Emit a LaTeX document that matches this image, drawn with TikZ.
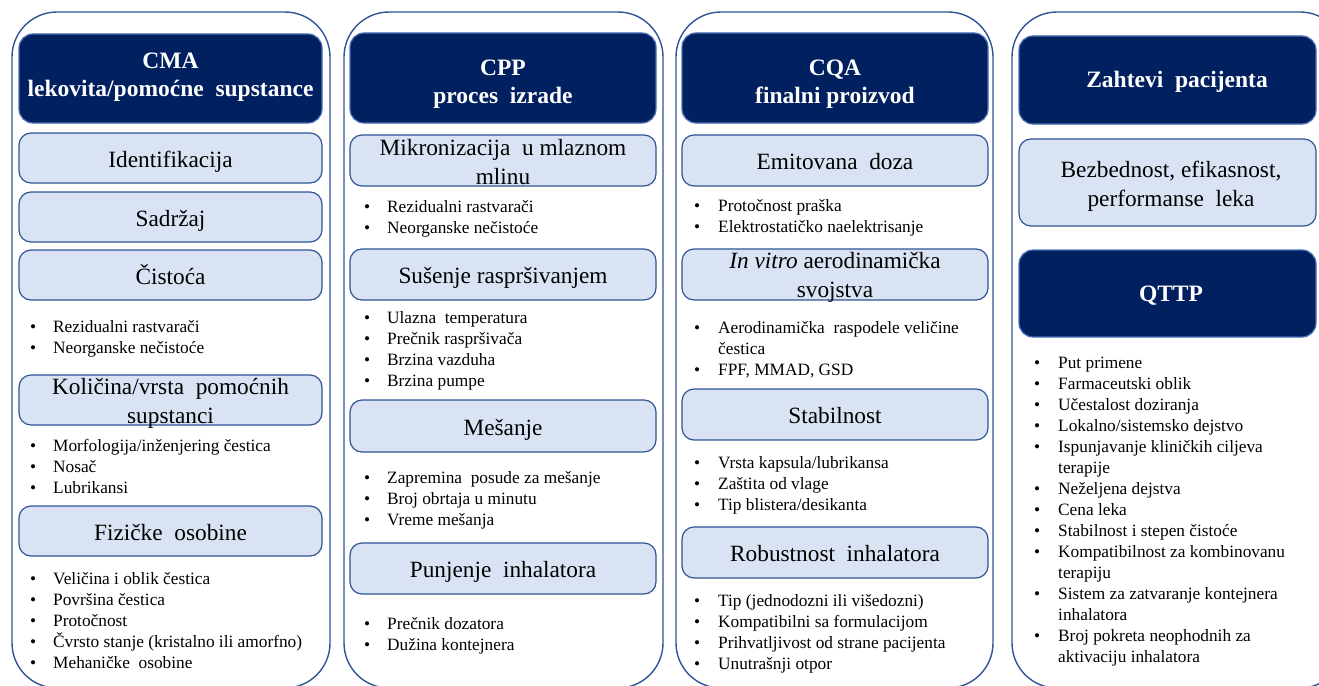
\documentclass[tikz,border=0pt]{standalone}
\usepackage{fontspec}
\setmainfont{Liberation Serif}
\usepackage{array}
\definecolor{navy}{HTML}{002060}
\definecolor{lightbox}{HTML}{DAE3F3}
\definecolor{edgeblue}{HTML}{2F5597}
\definecolor{hdredge}{HTML}{4A6FB5}
\newcommand{\blt}{\textbullet &}
\tikzset{
  frame/.style={draw=edgeblue, line width=1.4pt, rounded corners=45pt, fill=white},
  hdrbox/.style={draw=hdredge, line width=1.2pt, fill=navy, rounded corners=14pt, inner sep=0pt},
  lbox/.style={draw=edgeblue, line width=1.2pt, fill=lightbox, rounded corners=12pt, inner sep=0pt},
  hdrtext/.style={text=white, font=\bfseries\fontsize{23.5}{28}\selectfont, align=center, inner sep=0pt},
  hdrone/.style={hdrtext, text height=19pt, text depth=3pt},
  lbltext/.style={text=black, font=\fontsize{23.3}{29}\selectfont, align=center, inner sep=0pt},
  lblone/.style={lbltext, text height=20pt, text depth=2pt},
  blist/.style={anchor=base west, inner sep=0pt, font=\fontsize{17.3}{21}\selectfont, align=left}
}
\begin{document}
\begin{tikzpicture}[x=1pt,y=-1pt]
\useasboundingbox (0,0) rectangle (1319,685);
\clip (0,0) rectangle (1319,685);
% outer frames
\draw[frame] (12,12) rectangle (330,688);
\draw[frame] (344,12) rectangle (663,688);
\draw[frame] (676,12) rectangle (993,688);
\draw[frame] (1012,12) rectangle (1345,688);

% ---------------- Column 1 ----------------
\node[hdrbox, minimum width=303pt, minimum height=89pt] (h1) at (170.5,78.5) {};
\node[hdrtext] (h1t) at (170.5,77) {CMA\\lekovita/pomoćne\ \ supstance};
\node[lbox, minimum width=303pt, minimum height=50pt] (a1) at (170.5,158) {};
\node[lblone] at (a1) {Identifikacija};
\node[lbox, minimum width=303pt, minimum height=50pt] (a2) at (170.5,217) {};
\node[lblone] at (a2) {Sadržaj};
\node[lbox, minimum width=303pt, minimum height=50pt] (a3) at (170.5,275) {};
\node[lblone] at (a3) {Čistoća};
\node[blist] (la3) at (30,332) {\begin{tabular}[t]{@{}p{23pt}@{}l@{}}
\blt Rezidualni rastvarači\\
\blt Neorganske nečistoće
\end{tabular}};
\node[lbox, minimum width=303pt, minimum height=50pt] (a4) at (170.5,400) {};
\node[lbltext] at (170.5,403) {Količina/vrsta\ \ pomoćnih\\supstanci};
\node[blist] (la4) at (30,451) {\begin{tabular}[t]{@{}p{23pt}@{}l@{}}
\blt Morfologija/inženjering čestica\\
\blt Nosač\\
\blt Lubrikansi
\end{tabular}};
\node[lbox, minimum width=303pt, minimum height=50pt] (a5) at (170.5,531) {};
\node[lblone] at (a5) {Fizičke\ \ osobine};
\node[blist] (la5) at (30,584) {\begin{tabular}[t]{@{}p{23pt}@{}l@{}}
\blt Veličina i oblik čestica\\
\blt Površina čestica\\
\blt Protočnost\\
\blt Čvrsto stanje (kristalno ili amorfno)\\
\blt Mehaničke\ \ osobine
\end{tabular}};

% ---------------- Column 2 ----------------
\node[hdrbox, minimum width=306pt, minimum height=90pt] (h2) at (503,78) {};
\node[hdrtext] (h2t) at (503,84) {CPP\\proces\ \ izrade};
\node[lbox, minimum width=306pt, minimum height=51pt] (b1) at (503,160.5) {};
\node[lbltext] at (503,162) {Mikronizacija\ \ u mlaznom\\mlinu};
\node[blist] (lb1) at (364,212) {\begin{tabular}[t]{@{}p{23pt}@{}l@{}}
\blt Rezidualni rastvarači\\
\blt Neorganske nečistoće
\end{tabular}};
\node[lbox, minimum width=306pt, minimum height=51pt] (b2) at (503,274.5) {};
\node[lblone] at (b2) {Sušenje raspršivanjem};
\node[blist] (lb2) at (364,323) {\begin{tabular}[t]{@{}p{23pt}@{}l@{}}
\blt Ulazna\ \ temperatura\\
\blt Prečnik raspršivača\\
\blt Brzina vazduha\\
\blt Brzina pumpe
\end{tabular}};
\node[lbox, minimum width=306pt, minimum height=52pt] (b3) at (503,426) {};
\node[lblone] at (b3) {Mešanje};
\node[blist] (lb3) at (364,483) {\begin{tabular}[t]{@{}p{23pt}@{}l@{}}
\blt Zapremina\ \ posude za mešanje\\
\blt Broj obrtaja u minutu\\
\blt Vreme mešanja
\end{tabular}};
\node[lbox, minimum width=306pt, minimum height=51pt] (b4) at (503,568.5) {};
\node[lblone] at (b4) {Punjenje\ \ inhalatora};
\node[blist] (lb4) at (364,629) {\begin{tabular}[t]{@{}p{23pt}@{}l@{}}
\blt Prečnik dozatora\\
\blt Dužina kontejnera
\end{tabular}};

% ---------------- Column 3 ----------------
\node[hdrbox, minimum width=306pt, minimum height=90pt] (h3) at (835,78) {};
\node[hdrtext] (h3t) at (835,84) {CQA\\finalni\ proizvod};
\node[lbox, minimum width=306pt, minimum height=51pt] (c1) at (835,160.5) {};
\node[lblone] at (c1) {Emitovana\ \ doza};
\node[blist] (lc1) at (694,211) {\begin{tabular}[t]{@{}p{24pt}@{}l@{}}
\blt Protočnost praška\\
\blt Elektrostatičko naelektrisanje
\end{tabular}};
\node[lbox, minimum width=306pt, minimum height=51pt] (c2) at (835,274.5) {};
\node[lbltext] at (835,277) {\textit{In vitro} aerodinamička\\svojstva};
\node[blist] (lc2) at (694,333) {\begin{tabular}[t]{@{}p{24pt}@{}l@{}}
\blt Aerodinamička\ \ raspodele veličine\\
& čestica\\
\blt FPF, MMAD, GSD
\end{tabular}};
\node[lbox, minimum width=306pt, minimum height=51pt] (c3) at (835,414.5) {};
\node[lblone] at (c3) {Stabilnost};
\node[blist] (lc3) at (694,468) {\begin{tabular}[t]{@{}p{24pt}@{}l@{}}
\blt Vrsta kapsula/lubrikansa\\
\blt Zaštita od vlage\\
\blt Tip blistera/desikanta
\end{tabular}};
\node[lbox, minimum width=306pt, minimum height=51pt] (c4) at (835,552.5) {};
\node[lblone] at (c4) {Robustnost\ \ inhalatora};
\node[blist] (lc4) at (694,606) {\begin{tabular}[t]{@{}p{24pt}@{}l@{}}
\blt Tip (jednodozni ili višedozni)\\
\blt Kompatibilni sa formulacijom\\
\blt Prihvatljivost od strane pacijenta\\
\blt Unutrašnji otpor
\end{tabular}};

% ---------------- Column 4 ----------------
\node[hdrbox, minimum width=297pt, minimum height=88pt] (h4) at (1167.5,80) {};
\node[hdrone] (h4t) at (1177,80) {Zahtevi\ \ pacijenta};
\node[lbox, minimum width=297pt, minimum height=87pt] (d1) at (1167.5,182.5) {};
\node[lbltext] at (1171,186) {Bezbednost,\ efikasnost,\\performanse\ \ leka};
\node[hdrbox, minimum width=297pt, minimum height=87pt] (h5) at (1167.5,293.5) {};
\node[hdrone] (h5t) at (1171,293) {QTTP};
\node[blist] (ld) at (1034,368) {\begin{tabular}[t]{@{}p{24pt}@{}l@{}}
\blt Put primene\\
\blt Farmaceutski oblik\\
\blt Učestalost doziranja\\
\blt Lokalno/sistemsko dejstvo\\
\blt Ispunjavanje\ kliničkih ciljeva\\
& terapije\\
\blt Neželjena dejstva\\
\blt Cena leka\\
\blt Stabilnost i stepen čistoće\\
\blt Kompatibilnost za kombinovanu\\
& terapiju\\
\blt Sistem za zatvaranje kontejnera\\
& inhalatora\\
\blt Broj pokreta neophodnih za\\
& aktivaciju inhalatora
\end{tabular}};
\end{tikzpicture}
\end{document}
